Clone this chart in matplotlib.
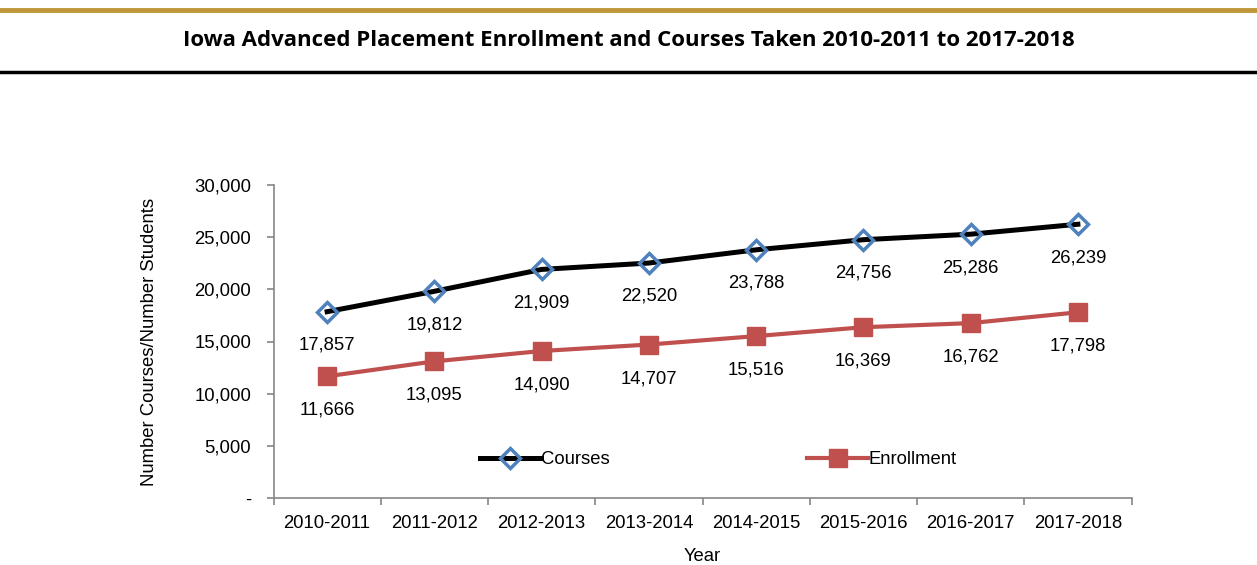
import matplotlib.pyplot as plt
from matplotlib.lines import Line2D

# data
years = ["2010-2011", "2011-2012", "2012-2013", "2013-2014",
         "2014-2015", "2015-2016", "2016-2017", "2017-2018"]
courses = [17857, 19812, 21909, 22520, 23788, 24756, 25286, 26239]
enrollment = [11666, 13095, 14090, 14707, 15516, 16369, 16762, 17798]

plt.rcParams['font.family'] = ['Liberation Sans', 'DejaVu Sans']
fs = 13.3

fig = plt.figure(figsize=(12.57, 5.65), dpi=100)

# top gold rule, title, black rule
fig.add_artist(Line2D([0, 1], [1 - 10 / 565, 1 - 10 / 565], color='#C0963A', lw=3.5,
                      transform=fig.transFigure))
fig.text(0.5, 1 - 41 / 565, "Iowa Advanced Placement Enrollment and Courses Taken 2010-2011 to 2017-2018",
         ha='center', va='center', fontsize=16, fontweight='bold', family=['Open Sans', 'DejaVu Sans'])
fig.add_artist(Line2D([0, 1], [1 - 72 / 565, 1 - 72 / 565], color='black', lw=2.5,
                      transform=fig.transFigure))

ax = fig.add_axes([273.5 / 1257, 1 - 498 / 565, (1131.5 - 273.5) / 1257, (498 - 185) / 565])

x = list(range(len(years)))
ax.plot(x, courses, color='black', lw=3.6, marker='D', markersize=10,
        markerfacecolor='none', markeredgecolor='#4F81BD', markeredgewidth=2.5,
        label='Courses', zorder=3)
ax.plot(x, enrollment, color='#C0504D', lw=3.0, marker='s', markersize=13,
        markerfacecolor='#C0504D', markeredgecolor='#C0504D', label='Enrollment', zorder=3)

for xi, v in zip(x, courses):
    ax.annotate(f"{v:,}", (xi, v), xytext=(0, -24), textcoords='offset points',
                ha='center', va='center', fontsize=fs)
for xi, v in zip(x, enrollment):
    ax.annotate(f"{v:,}", (xi, v), xytext=(0, -24.5), textcoords='offset points',
                ha='center', va='center', fontsize=fs)

ax.set_xlim(-0.5, len(years) - 0.5)
ax.set_ylim(0, 30000)
ax.set_yticks(range(0, 30001, 5000))
ax.set_yticklabels(['-'] + [f"{t:,}" for t in range(5000, 30001, 5000)], fontsize=fs)
ax.set_xticks(x)
ax.set_xticklabels(years, fontsize=fs)
ax.set_xticks([i + 0.5 for i in range(-1, len(years))], minor=True)

for s in ['top', 'right']:
    ax.spines[s].set_visible(False)
for s in ['left', 'bottom']:
    ax.spines[s].set_color('#868686')
    ax.spines[s].set_linewidth(1.2)
ax.tick_params(axis='y', direction='out', length=5, color='#868686', width=1.2, pad=11)
ax.tick_params(axis='x', which='major', length=0, pad=12)
ax.tick_params(axis='x', which='minor', direction='out', length=5, color='#868686', width=1.2)

ax.set_ylabel("Number Courses/Number Students", fontsize=fs, labelpad=26)
ax.set_xlabel("Year", fontsize=fs, labelpad=12)

ax.legend(loc='center', bbox_to_anchor=(0.518, 0.123), ncol=2, frameon=False,
          fontsize=fs, columnspacing=10.7, handlelength=3.3, handletextpad=0.0,
          numpoints=1)

plt.savefig("out.png", dpi=100)
